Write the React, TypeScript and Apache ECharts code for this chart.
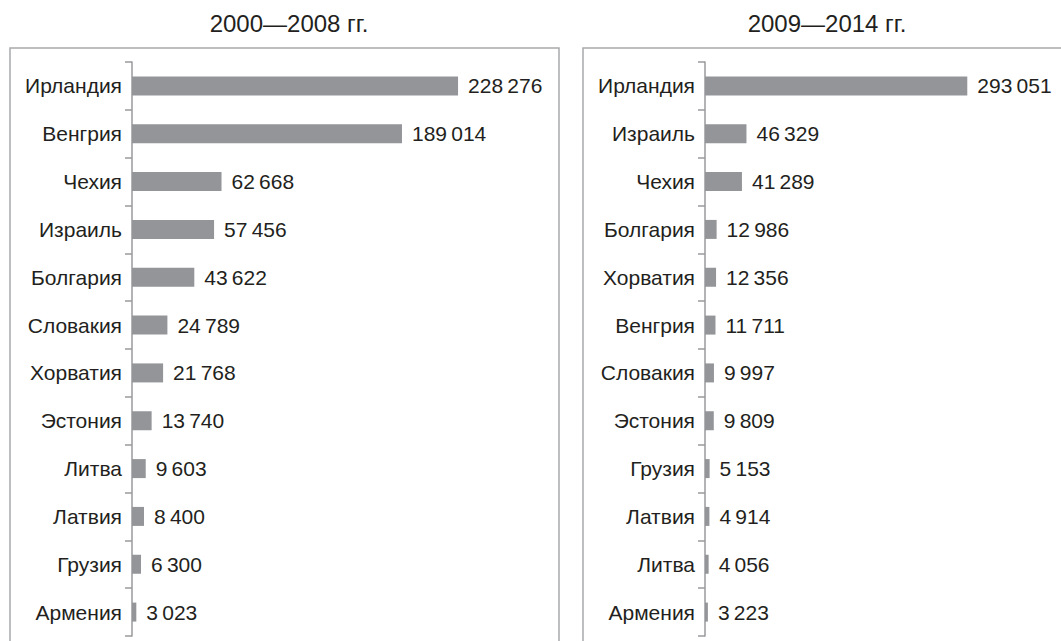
import React, { useEffect, useRef } from "react";
import * as echarts from "echarts";

const titles = ["2000—2008 гг.", "2009—2014 гг."];

const leftCategories = [
  "Ирландия", "Венгрия", "Чехия", "Израиль", "Болгария", "Словакия",
  "Хорватия", "Эстония", "Литва", "Латвия", "Грузия", "Армения",
];
const leftValues = [228276, 189014, 62668, 57456, 43622, 24789, 21768, 13740, 9603, 8400, 6300, 3023];

const rightCategories = [
  "Ирландия", "Израиль", "Чехия", "Болгария", "Хорватия", "Венгрия",
  "Словакия", "Эстония", "Грузия", "Латвия", "Литва", "Армения",
];
const rightValues = [293051, 46329, 41289, 12986, 12356, 11711, 9997, 9809, 5153, 4914, 4056, 3223];

const FONT = "'Liberation Sans', Arial, sans-serif";
const TEXT = "#231f20";
const BAR = "#939598";
const AXIS = "#9a9a9d";
const BORDER = "#a7a9ac";
const FS = 21;
const TITLE_FS = 24;

function fmt(v: number): string {
  return String(v).replace(/\B(?=(\d{3})+(?!\d))/g, "\u2009");
}

export default function App() {
  const ref = useRef<HTMLDivElement>(null);
  useEffect(() => {
    document.body.style.margin = "0";
    const chart = echarts.init(ref.current!, null, { renderer: "svg" });
    const makeY = (idx: number, cats: string[]) => ({
      type: "category",
      gridIndex: idx,
      data: cats,
      inverse: true,
      axisLine: { show: true, lineStyle: { color: AXIS, width: 1.5 } },
      axisTick: { show: true, length: 7, lineStyle: { color: AXIS, width: 1.5 } },
      axisLabel: { color: TEXT, fontSize: FS, fontFamily: FONT, margin: 10 },
    });
    const makeX = (idx: number) => ({
      type: "value",
      gridIndex: idx,
      min: 0,
      max: 300000,
      show: false,
      splitLine: { show: false },
    });
    const makeSeries = (idx: number, vals: number[]) => ({
      type: "bar",
      xAxisIndex: idx,
      yAxisIndex: idx,
      data: vals,
      barWidth: 19,
      itemStyle: { color: BAR },
      label: {
        show: true,
        position: "right",
        distance: 10,
        color: TEXT,
        fontSize: FS,
        fontFamily: FONT,
        formatter: (p: any) => fmt(p.value),
      },
    });
    const titleStyle = { color: TEXT, fontSize: TITLE_FS, fontWeight: "normal", fontFamily: FONT };
    chart.setOption({
      animation: false,
      textStyle: { fontFamily: FONT },
      title: [
        { text: titles[0], left: 284, top: 6, textAlign: "center", textStyle: titleStyle },
        { text: titles[1], left: 822, top: 6, textAlign: "center", textStyle: titleStyle },
      ],
      graphic: [
        {
          type: "rect",
          shape: { x: 10, y: 48, width: 549, height: 620 },
          style: { fill: "none", stroke: BORDER, lineWidth: 1.5 },
          silent: true,
        },
        {
          type: "rect",
          shape: { x: 583, y: 48, width: 500, height: 620 },
          style: { fill: "none", stroke: BORDER, lineWidth: 1.5 },
          silent: true,
        },
      ],
      grid: [
        { left: 132, top: 62, width: 428.5, height: 574 },
        { left: 705, top: 62, width: 268.5, height: 574 },
      ],
      xAxis: [makeX(0), makeX(1)],
      yAxis: [makeY(0, leftCategories), makeY(1, rightCategories)],
      series: [makeSeries(0, leftValues), makeSeries(1, rightValues)],
    });
    return () => chart.dispose();
  }, []);
  return (
    <div
      ref={ref}
      style={{ position: "fixed", left: 0, top: 0, width: 1061, height: 641, background: "#fff" }}
    />
  );
}
